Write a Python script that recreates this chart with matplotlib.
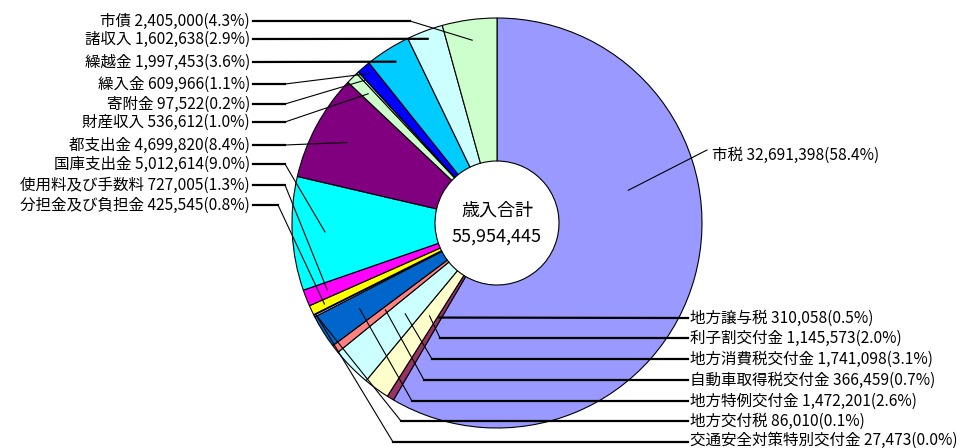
import numpy as np
import matplotlib.pyplot as plt

plt.rcParams['font.family'] = ['Noto Sans CJK JP', 'DejaVu Sans']

# ── データ ────────────────────────────────────────────────
categories = [
    "市税", "地方譲与税", "利子割交付金", "地方消費税交付金", "自動車取得税交付金",
    "地方特例交付金", "地方交付税", "交通安全対策特別交付金", "分担金及び負担金",
    "使用料及び手数料", "国庫支出金", "都支出金", "財産収入", "寄附金",
    "繰入金", "繰越金", "諸収入", "市債",
]
values = [
    32691398, 310058, 1145573, 1741098, 366459,
    1472201, 86010, 27473, 425545,
    727005, 5012614, 4699820, 536612, 97522,
    609966, 1997453, 1602638, 2405000,
]
percents = [
    "58.4", "0.5", "2.0", "3.1", "0.7",
    "2.6", "0.1", "0.0", "0.8",
    "1.3", "9.0", "8.4", "1.0", "0.2",
    "1.1", "3.6", "2.9", "4.3",
]
colors = [
    "#9999FF", "#993366", "#FFFFCC", "#CCFFFF", "#FF8080",
    "#0066CC", "#CCCCFF", "#000080", "#FFFF00",
    "#FF00FF", "#00FFFF", "#800080", "#CCFFCC", "#CCFFCC",
    "#0000FF", "#00CCFF", "#CCFFFF", "#CCFFCC",
]
total_label = "歳入合計"

# ── レイアウト（ピクセル座標, y は上から） ──────────────────
W, H = 968, 448
CX, CY = 497, 223
R, R_IN = 205, 62
FS = 11.2

# (side, label y, elbow x, anchor radius fraction, angle override)
layout = {
    "市税":               ("R", 155, None, 0.66, 76),
    "地方譲与税":         ("R", 318, None, 0.54, None),
    "利子割交付金":       ("R", 338, 440, 0.56, None),
    "地方消費税交付金":   ("R", 359, 432, 0.63, None),
    "自動車取得税交付金": ("R", 380, 424, 0.69, None),
    "地方特例交付金":     ("R", 401, 412, 0.79, None),
    "地方交付税":         ("R", 421, 401, 0.99, None),
    "交通安全対策特別交付金": ("R", 442, 393, 0.99, None),
    "分担金及び負担金":   ("L", 205, 278, 0.93, None),
    "使用料及び手数料":   ("L", 185, 285, 0.89, None),
    "国庫支出金":         ("L", 164, 285, 0.84, None),
    "都支出金":           ("L", 145, 285, 0.83, None),
    "財産収入":           ("L", 122, 285, 0.89, None),
    "寄附金":             ("L", 104, 285, 0.95, None),
    "繰入金":             ("L", 84, 285, 0.96, None),
    "繰越金":             ("L", 62, None, 0.93, None),
    "諸収入":             ("L", 39, None, 0.96, None),
    "市債":               ("L", 21, 410, 0.90, None),
}


def to_data(x, y):
    return x, H - y


fig = plt.figure(figsize=(W / 100, H / 100), dpi=100)
ax = fig.add_axes([0, 0, 1, 1])

ax.pie(values, colors=colors, startangle=90, counterclock=False,
       center=to_data(CX, CY), radius=R,
       wedgeprops=dict(width=R - R_IN, edgecolor="black", linewidth=0.8))
ax.set_xlim(0, W)
ax.set_ylim(0, H)
ax.set_aspect("equal")
ax.axis("off")

total = sum(values)
ax.text(*to_data(CX, 211), total_label, ha="center", va="center", fontsize=13)
ax.text(*to_data(CX, 237), f"{total:,}", ha="center", va="center", fontsize=13)

# 中心角（12時から時計回り）
cum = np.cumsum([0] + values) / total
mids = (cum[:-1] + cum[1:]) / 2 * 360

for name, val, pct, mid in zip(categories, values, percents, mids):
    side, ly, elbow, rf, ang = layout[name]
    th = np.radians(ang if ang is not None else mid)
    axp = CX + R * rf * np.sin(th)
    ayp = CY - R * rf * np.cos(th)
    label = f"{name} {val:,}({pct}%)"

    if name == "市税":
        ax.plot(*zip(to_data(axp, ayp), to_data(707, 150)), color="black", lw=0.8)
        ax.text(*to_data(712, ly), label, ha="left", va="center", fontsize=FS)
        continue

    end_x = 253 if side == "L" else 688
    if elbow is None:
        ax.plot(*zip(to_data(end_x, ly), to_data(axp, ayp)), color="black", lw=1.6)
    else:
        ax.plot(*zip(to_data(end_x, ly), to_data(elbow, ly)), color="black", lw=1.6)
        ax.plot(*zip(to_data(elbow, ly), to_data(axp, ayp)), color="black", lw=0.8)

    ty = ly - 2 if ly > 430 else ly
    if side == "L":
        ax.text(*to_data(250, ty), label, ha="right", va="center", fontsize=FS)
    else:
        ax.text(*to_data(690, ty), label, ha="left", va="center", fontsize=FS)

fig.savefig("out.png", dpi=100, facecolor="white")
